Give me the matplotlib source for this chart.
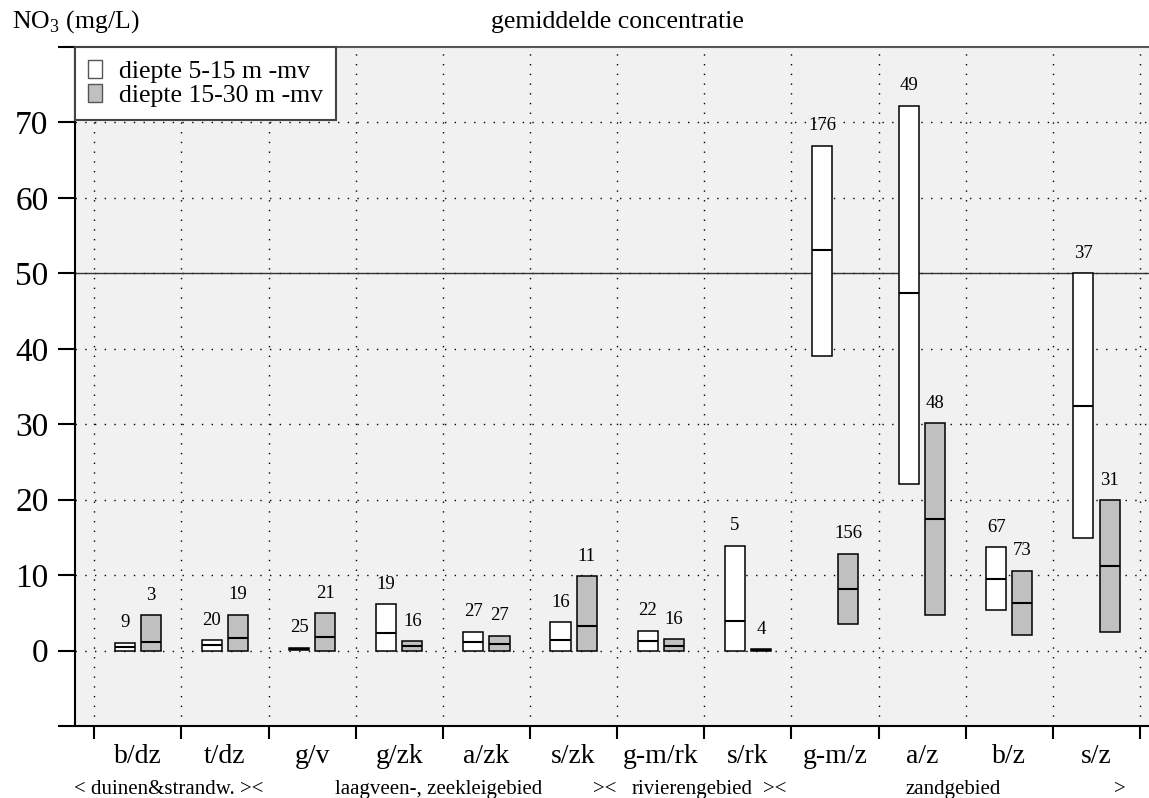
import matplotlib
matplotlib.use("Agg")
import matplotlib.pyplot as plt
from matplotlib.patches import Patch
from matplotlib.transforms import blended_transform_factory

plt.rcParams['font.family'] = ['Liberation Serif', 'DejaVu Serif']
plt.rcParams['mathtext.fontset'] = 'custom'
plt.rcParams['mathtext.rm'] = 'Liberation Serif'

categories = ['b/dz', 't/dz', 'g/v', 'g/zk', 'a/zk', 's/zk', 'g-m/rk', 's/rk',
              'g-m/z', 'a/z', 'b/z', 's/z']

# diepte 5-15 m -mv
shallow_min = [0.0, 0.0, 0.1, 0.0, 0.0, 0.0, 0.0, 0.0, 39.1, 22.1, 5.4, 14.9]
shallow_med = [0.46, 0.69, 0.25, 2.36, 1.08, 1.43, 1.26, 3.95, 53.1, 47.4, 9.5, 32.4]
shallow_max = [1.03, 1.35, 0.37, 6.16, 2.49, 3.73, 2.62, 13.9, 66.9, 72.2, 13.7, 50.0]
shallow_n = [9, 20, 25, 19, 27, 16, 22, 5, 176, 49, 67, 37]

# diepte 15-30 m -mv
deep_min = [0.0, 0.0, 0.0, 0.0, 0.0, 0.0, 0.0, 0.0, 3.47, 4.66, 2.0, 2.4]
deep_med = [1.08, 1.7, 1.83, 0.6, 0.82, 3.24, 0.6, 0.08, 8.1, 17.4, 6.33, 11.15]
deep_max = [4.66, 4.74, 4.97, 1.22, 1.96, 9.83, 1.52, 0.17, 12.8, 30.1, 10.6, 19.9]
deep_n = [3, 19, 21, 16, 27, 11, 16, 4, 156, 48, 73, 31]

yticks = [0, 10, 20, 30, 40, 50, 60, 70]
norm_value = 50

group_labels = ['< duinen&strandw. ><', 'laagveen-, zeekleigebied', '><',
                'rivierengebied', '><', 'zandgebied', '>']
group_label_x = [0.859, 3.95, 5.86, 6.865, 7.806, 9.854, 11.77]

W, H = 1149, 798
fig = plt.figure(figsize=(W / 100, H / 100), dpi=100)
ax = fig.add_axes([75 / W, (H - 726) / H, (W - 75) / W, (726 - 47) / H])
ax.set_facecolor('#f1f1f1')

n = len(categories)
ax.set_xlim(-0.2215, 12.103)
ax.set_ylim(-10, 80)

bw = 0.23
dot = (0, (1, 6))
# grid
for xb in range(n + 1):
    ax.axvline(xb, color='black', lw=1.0, ls=dot, zorder=1)
for yv in yticks:
    ax.axhline(yv, color='black', lw=1.0, ls=dot, zorder=1)
ax.axhline(norm_value, color='#333333', lw=1.0, zorder=1.5)

for i in range(n):
    for xoff, lo, med, hi, cnt, fc in [
            (0.35, shallow_min[i], shallow_med[i], shallow_max[i], shallow_n[i], 'white'),
            (0.65, deep_min[i], deep_med[i], deep_max[i], deep_n[i], '#c0c0c0')]:
        xc = i + xoff
        ax.bar(xc, hi - lo, bottom=lo, width=bw, color=fc, edgecolor='black',
               linewidth=1.1, zorder=3)
        ax.plot([xc - bw / 2, xc + bw / 2], [med, med], color='black', lw=1.5,
                zorder=4, solid_capstyle='butt')
        ax.annotate(str(cnt), (xc, hi), xytext=(0, 20), textcoords='offset pixels',
                    ha='center', va='center', fontsize=13.5, zorder=5)

# axes styling
ax.spines['right'].set_visible(False)
ax.spines['top'].set_color('#555555')
ax.spines['top'].set_linewidth(1.5)
ax.spines['left'].set_linewidth(1.5)
ax.spines['bottom'].set_linewidth(1.5)

ax.set_yticks([-10] + yticks + [80])
ax.set_yticklabels([''] + [str(v) for v in yticks] + [''])
ax.tick_params(axis='y', length=12, width=1.5, pad=7, labelsize=24)

ax.set_xticks(range(n + 1))
ax.set_xticklabels([''] * (n + 1))
ax.set_xticks([i + 0.5 for i in range(n)], minor=True)
ax.set_xticklabels(categories, minor=True)
ax.tick_params(axis='x', which='major', length=9, width=1.5)
ax.tick_params(axis='x', which='minor', length=0, pad=13, labelsize=20)

# legend
handles = [Patch(facecolor='white', edgecolor='#555555', lw=1.0),
           Patch(facecolor='#c0c0c0', edgecolor='#555555', lw=1.0)]
leg = ax.legend(handles, ['diepte 5-15 m -mv', 'diepte 15-30 m -mv'],
                loc='upper left', borderaxespad=0, fontsize=18.5, fancybox=False,
                handlelength=0.55, handleheight=0.7, handletextpad=0.65,
                labelspacing=0.05, borderpad=0.5, framealpha=1)
leg.get_frame().set_edgecolor('#444444')
leg.get_frame().set_linewidth(1.5)
leg.set_zorder(10)

# titles
fig.text(12 / W, 1 - 22 / H, r'NO$_\mathrm{3}$ (mg/L)', ha='left', va='center', fontsize=18.5)
fig.text(617 / W, 1 - 22 / H, 'gemiddelde concentratie', ha='center', va='center', fontsize=18.5)

# group labels
trans = blended_transform_factory(ax.transData, fig.transFigure)
for lab, xl in zip(group_labels, group_label_x):
    ax.text(xl, 4 / H, lab, transform=trans, ha='center', va='baseline',
            fontsize=15, clip_on=False)

fig.savefig('out.png', dpi=100)
